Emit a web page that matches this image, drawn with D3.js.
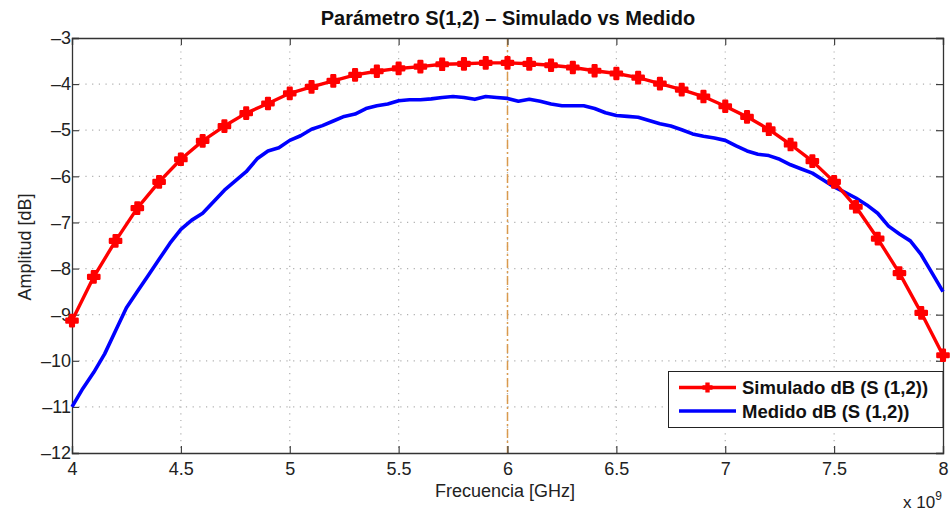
<!DOCTYPE html>
<html><head><meta charset="utf-8">
<script src="https://cdn.jsdelivr.net/npm/d3@7"></script>
<style>body{margin:0;background:#fff}svg{display:block}text{font-family:"Liberation Sans",Arial,sans-serif}</style>
</head><body>
<svg id="c" width="950" height="514"></svg>
<script>
const simFreq = [4.0,4.1,4.2,4.3,4.4,4.5,4.6,4.7,4.8,4.9,5.0,5.1,5.2,5.3,5.4,5.5,5.6,5.7,5.8,5.9,6.0,6.1,6.2,6.3,6.4,6.5,6.6,6.7,6.8,6.9,7.0,7.1,7.2,7.3,7.4,7.5,7.6,7.7,7.8,7.9,8.0];
const simDb = [-9.13,-8.18,-7.40,-6.69,-6.12,-5.63,-5.23,-4.91,-4.63,-4.42,-4.20,-4.06,-3.93,-3.80,-3.72,-3.66,-3.62,-3.57,-3.56,-3.54,-3.54,-3.56,-3.59,-3.64,-3.71,-3.77,-3.86,-3.99,-4.12,-4.27,-4.48,-4.71,-4.98,-5.31,-5.67,-6.12,-6.66,-7.35,-8.10,-8.96,-9.88];
const medFreq = [4.0,4.05,4.1,4.15,4.2,4.25,4.3,4.35,4.4,4.45,4.5,4.55,4.6,4.65,4.7,4.75,4.8,4.85,4.9,4.95,5.0,5.05,5.1,5.15,5.2,5.25,5.3,5.35,5.4,5.45,5.5,5.55,5.6,5.65,5.7,5.75,5.8,5.85,5.9,5.95,6.0,6.05,6.1,6.15,6.2,6.25,6.3,6.35,6.4,6.45,6.5,6.55,6.6,6.65,6.7,6.75,6.8,6.85,6.9,6.95,7.0,7.05,7.1,7.15,7.2,7.25,7.3,7.35,7.4,7.45,7.5,7.55,7.6,7.65,7.7,7.75,7.8,7.85,7.9,7.95,8.0];
const medDb = [-11.0,-10.6,-10.25,-9.85,-9.35,-8.85,-8.5,-8.15,-7.8,-7.45,-7.15,-6.95,-6.8,-6.55,-6.3,-6.1,-5.9,-5.62,-5.45,-5.38,-5.22,-5.12,-4.98,-4.9,-4.8,-4.7,-4.65,-4.53,-4.47,-4.43,-4.36,-4.34,-4.34,-4.32,-4.29,-4.27,-4.29,-4.33,-4.27,-4.29,-4.31,-4.37,-4.33,-4.37,-4.43,-4.47,-4.47,-4.47,-4.53,-4.62,-4.68,-4.70,-4.72,-4.79,-4.86,-4.91,-4.99,-5.08,-5.13,-5.17,-5.22,-5.34,-5.45,-5.52,-5.55,-5.63,-5.75,-5.84,-5.93,-6.08,-6.23,-6.35,-6.47,-6.62,-6.80,-7.08,-7.25,-7.40,-7.70,-8.10,-8.50];
const xTicks = [4,4.5,5,5.5,6,6.5,7,7.5,8];
const yTicks = [-3,-4,-5,-6,-7,-8,-9,-10,-11,-12];
const markerFreq = 6;
const seriesNames = ["Simulado dB (S (1,2))","Medido dB (S (1,2))"];

const svg = d3.select("#c");
const L=72, R=943, T=38, B=453;
const x = d3.scaleLinear().domain([4,8]).range([L,R]);
const y = d3.scaleLinear().domain([-12,-3]).range([B,T]);
const fmt = v => String(v).replace("-","\u2013");

// grid
const g = svg.append("g");
g.selectAll(".gx").data(xTicks.slice(1,-1)).join("line")
  .attr("x1",d=>x(d)).attr("x2",d=>x(d)).attr("y1",T).attr("y2",B)
  .attr("stroke","#b0b0b0").attr("stroke-width",1.2).attr("stroke-dasharray","1.2,5.5");
g.selectAll(".gy").data(yTicks.slice(1,-1)).join("line")
  .attr("y1",d=>y(d)).attr("y2",d=>y(d)).attr("x1",L).attr("x2",R)
  .attr("stroke","#b0b0b0").attr("stroke-width",1.2).attr("stroke-dasharray","1.2,5.5");

// vertical dash-dot line at 6 GHz
svg.append("line").attr("x1",x(markerFreq)).attr("x2",x(markerFreq)).attr("y1",T).attr("y2",B)
  .attr("stroke","#d99a4e").attr("stroke-width",1.5).attr("stroke-dasharray","9,3,2,3");

// axes box with inward ticks
const axB = d3.axisBottom(x).tickValues(xTicks).tickSize(-7).tickPadding(9).tickFormat(d=>fmt(d));
const axT = d3.axisTop(x).tickValues(xTicks).tickSize(-7).tickFormat("");
const axLf = d3.axisLeft(y).tickValues(yTicks).tickSize(-7).tickPadding(1).tickFormat(d=>fmt(d));
const axRt = d3.axisRight(y).tickValues(yTicks).tickSize(-7).tickFormat("");
function style(sel){sel.select(".domain").attr("stroke","#333").attr("stroke-width",1.3);
  sel.selectAll(".tick line").attr("stroke","#333").attr("stroke-width",1.1);
  sel.selectAll("text").attr("font-size","18px").attr("fill","#222").style("font-family","'Liberation Sans',Arial,sans-serif");}
svg.append("g").attr("transform",`translate(0,${B})`).call(axB).call(style);
svg.append("g").attr("transform",`translate(0,${T})`).call(axT).call(style);
svg.append("g").attr("transform",`translate(${L},0)`).call(axLf).call(style);
svg.append("g").attr("transform",`translate(${R},0)`).call(axRt).call(style);

// series
const line = d3.line().x(d=>x(d[0])).y(d=>y(d[1]));
const medData = medFreq.map((f,i)=>[f,medDb[i]]);
const simData = simFreq.map((f,i)=>[f,simDb[i]]);
svg.append("path").datum(medData).attr("d",line).attr("fill","none").attr("stroke","#0000ff").attr("stroke-width",3.6).attr("stroke-linejoin","round");
svg.append("path").datum(simData).attr("d",line).attr("fill","none").attr("stroke","#ff0000").attr("stroke-width",3.4).attr("stroke-linejoin","round");
const cross = d3.symbol().type(d3.symbolCross).size(70);
svg.selectAll(".mk").data(simData).join("path").attr("d",cross)
  .attr("transform",d=>`translate(${x(d[0])},${y(d[1])})`)
  .attr("fill","#ff0000").attr("stroke","#ff0000").attr("stroke-width",2.4).attr("stroke-linejoin","round");

// legend
const lg = svg.append("g");
lg.append("rect").attr("x",668.5).attr("y",371.5).attr("width",R-668.5).attr("height",56).attr("fill","#fff").attr("stroke","#222").attr("stroke-width",1);
const cols = ["#ff0000","#0000ff"];
seriesNames.forEach((n,i)=>{
  const yy = 387.5 + i*23.5;
  lg.append("line").attr("x1",679).attr("x2",736).attr("y1",yy).attr("y2",yy).attr("stroke",cols[i]).attr("stroke-width",3.4);
  if(i===0) lg.append("path").attr("d",d3.symbol().type(d3.symbolCross).size(40)).attr("transform",`translate(707.5,${yy})`).attr("fill","#ff0000").attr("stroke","#ff0000").attr("stroke-width",1.5);
  lg.append("text").attr("x",742).attr("y",yy+6.5).attr("font-size","18.5px").attr("font-weight","bold").attr("fill","#111").text(n);
});

// titles
svg.append("text").attr("x",508).attr("y",25).attr("text-anchor","middle").attr("font-size","20px").attr("font-weight","bold").attr("fill","#111").text("Parámetro S(1,2) – Simulado vs Medido");
svg.append("text").attr("x",505).attr("y",497).attr("text-anchor","middle").attr("font-size","18px").attr("fill","#222").text("Frecuencia [GHz]");
svg.append("text").attr("transform","translate(31,247) rotate(-90)").attr("text-anchor","middle").attr("font-size","18px").attr("fill","#222").text("Amplitud [dB]");
const ex = svg.append("text").attr("x",903).attr("y",508).attr("font-size","17px").attr("fill","#222");
ex.append("tspan").text("x 10");
ex.append("tspan").attr("dy",-8).attr("font-size","12px").text("9");
</script>
</body></html>
